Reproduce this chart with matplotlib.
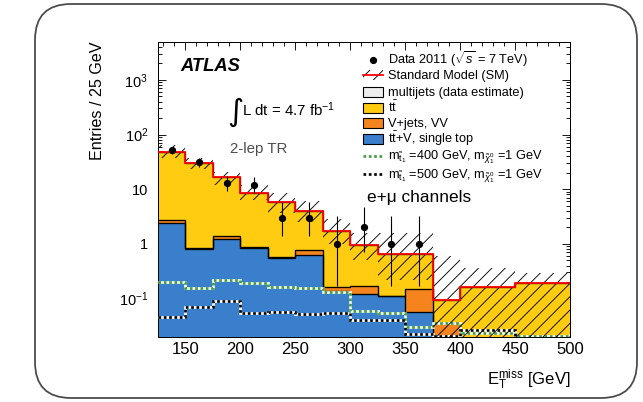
import numpy as np
import matplotlib
matplotlib.use("Agg")
import matplotlib.pyplot as plt
from matplotlib.patches import Rectangle, FancyBboxPatch
from matplotlib.ticker import FixedLocator, FixedFormatter, MultipleLocator, LogLocator, NullFormatter

plt.rcParams['font.family'] = ['Liberation Sans', 'DejaVu Sans']
plt.rcParams['mathtext.fontset'] = 'custom'
plt.rcParams['mathtext.rm'] = 'Liberation Sans'
plt.rcParams['mathtext.it'] = 'Liberation Sans:italic'
plt.rcParams['mathtext.bf'] = 'Liberation Sans:bold'
plt.rcParams['mathtext.sf'] = 'Liberation Sans'
plt.rcParams['hatch.linewidth'] = 0.8

# binning in MET (GeV), entries normalised to 25 GeV
edges = [125, 150, 175, 200, 225, 250, 275, 300, 325, 350, 375, 400, 450, 500]

# stacked backgrounds, bottom to top
ttv_single_top = [2.42, 0.82, 1.22, 0.84, 0.56, 0.62, 0.138, 0.12, 0.11, 0.057, 0.005, 0.004, 0.004]
vjets_vv = [0.29, 0.02, 0.16, 0.02, 0.01, 0.16, 0.025, 0.048, 0.002, 0.091, 0.030, 0.006, 0.006]
ttbar = [45.6, 28.8, 15.5, 7.84, 5.33, 3.22, 1.59, 0.79, 0.548, 0.512, 0.057, 0.153, 0.18]
multijets = [0.0, 0.0, 0.0, 0.0, 0.0, 0.0, 0.0, 0.0, 0.0, 0.0, 0.0, 0.0, 0.0]

# total SM uncertainty band
sm_up = [64, 38, 21, 12, 8.5, 6.0, 2.8, 1.6, 1.6, 1.6, 0.6, 0.36, 0.29]
sm_dn = [38, 23, 12, 6.3, 3.6, 2.5, 1.0, 0.5, 0.22, 0.22, 0.005, 0.005, 0.005]

# signal points
sig_400 = [0.20, 0.156, 0.22, 0.196, 0.163, 0.155, 0.129, 0.058, 0.054, 0.030, 0.036, 0.0235, 0.0205]
sig_500 = [0.045, 0.070, 0.089, 0.055, 0.057, 0.052, 0.054, 0.040, 0.040, 0.022, 0.021, 0.027, 0.01]

# data
data_x = [137.5, 162.5, 187.5, 212.5, 237.5, 262.5, 287.5, 312.5, 337.5, 362.5]
data_y = [52, 31, 13, 12, 3, 3, 1, 2, 1, 1]
data_lo = [7.2, 5.5, 3.6, 3.4, 1.63, 1.63, 0.83, 1.29, 0.83, 0.83]
data_hi = [8.3, 6.6, 4.7, 4.5, 2.92, 2.92, 2.30, 2.64, 2.30, 2.30]

legend_labels = [
    r'Data 2011 ($\sqrt{s}$ = 7 TeV)',
    'Standard Model (SM)',
    'multijets (data estimate)',
    r'$\mathrm{t\bar{t}}$',
    'V+jets, VV',
    r'$\mathrm{t\bar{t}}$+V, single top',
    r'm$_{\tilde{\mathrm{t}}_1}$ =400 GeV, m$_{\tilde{\chi}_1^0}$ =1 GeV',
    r'm$_{\tilde{\mathrm{t}}_1}$ =500 GeV, m$_{\tilde{\chi}_1^0}$ =1 GeV',
]

c_ttv = '#3a7fcc'
c_vj = '#f5841f'
c_tt = '#ffcc11'
c_mj = '#eeeeee'
c_sig4 = '#3f9a3f'

W, H, DPI = 643, 402, 80
fig = plt.figure(figsize=(W / DPI, H / DPI), dpi=DPI)
ax = fig.add_axes([158 / W, 1 - 336.7 / H, 412 / W, 295 / H])

edges = np.array(edges, dtype=float)
layers = [(ttv_single_top, c_ttv), (vjets_vv, c_vj), (ttbar, c_tt), (multijets, c_mj)]
bottom = np.full(len(edges) - 1, 1e-4)
tops = []
for vals, col in layers:
    top = bottom + np.array(vals)
    ax.stairs(top, edges, baseline=bottom, fill=True, facecolor=col, edgecolor='none', zorder=2)
    tops.append(top)
    bottom = top
for top in tops[:-1]:
    ax.stairs(top, edges, baseline=None, color='black', lw=1.2, zorder=3)
sm_total = tops[-1]

# signal lines: white base with dotted colour on top
for vals, col in [(sig_400, c_sig4), (sig_500, 'black')]:
    ax.stairs(vals, edges, baseline=None, color='white', lw=2.4, zorder=4)
    ax.stairs(vals, edges, baseline=None, color=col, lw=2.4, ls=(0, (1, 1)), zorder=4.1)

ax.stairs(sm_up, edges, baseline=sm_dn, fill=True, facecolor='none', edgecolor='black',
          hatch='//', lw=0, zorder=5)
ax.stairs(sm_total, edges, baseline=None, color='red', lw=1.6, zorder=6)

ax.errorbar(data_x, data_y, yerr=[data_lo, data_hi], fmt='o', color='black', ms=5.5,
            elinewidth=1.0, capsize=0, zorder=7)

ax.set_yscale('log')
ax.set_xlim(125, 500)
ax.set_ylim(0.02, 5000)

ax.xaxis.set_major_locator(MultipleLocator(50))
ax.xaxis.set_minor_locator(MultipleLocator(10))
ax.yaxis.set_major_locator(FixedLocator([0.1, 1, 10, 100, 1000]))
ax.yaxis.set_major_formatter(FixedFormatter(['$10^{-1}$', '1', '10', '$10^{2}$', '$10^{3}$']))
ax.yaxis.set_minor_locator(LogLocator(base=10, subs=np.arange(2, 10)))
ax.yaxis.set_minor_formatter(NullFormatter())
ax.tick_params(which='both', direction='in', top=True, right=True, width=0.8)
ax.tick_params(which='major', length=7)
ax.tick_params(which='minor', length=3.5)
ax.tick_params(axis='x', labelsize=15, pad=5)
ax.tick_params(axis='y', labelsize=13, pad=9)
for s in ax.spines.values():
    s.set_linewidth(0.9)

ax.set_ylabel('Entries / 25 GeV', loc='top', fontsize=14.5)
ax.yaxis.set_label_coords(-0.129, 1.0)
ax.set_xlabel(r'E$_{\mathrm{T}}^{\mathrm{miss}}$ [GeV]', loc='right', fontsize=15)
ax.xaxis.set_label_coords(1.0, -0.105)

# overlay in canvas pixels for the labels and the legend
ov = fig.add_axes([0, 0, 1, 1], zorder=10)
ov.set_xlim(0, W)
ov.set_ylim(H, 0)
ov.axis('off')

ov.text(180, 71, 'ATLAS', fontsize=16.5, fontweight='bold', fontstyle='italic', va='baseline')
ov.text(243, 112, '\u222b', fontsize=28, va='center', ha='right', family=['DejaVu Sans'])
ov.text(242, 116, 'L dt = 4.7 fb$^{-1}$', fontsize=13.5, va='baseline')
ov.text(230, 153, '2-lep TR', fontsize=13.5, color='#4d4d4d', va='baseline')
ov.text(367, 202, 'e+\u03bc channels', fontsize=15.5, va='baseline')

row_y = [60, 75, 91.5, 107.5, 122.5, 139, 155.5, 174]
hx0, hx1, hh = 363, 383, 10
for i, (yc, lab) in enumerate(zip(row_y, legend_labels)):
    if i == 0:
        ov.plot([(hx0 + hx1) / 2], [yc], 'o', color='black', ms=5.5)
    elif i == 1:
        ov.add_patch(Rectangle((hx0, yc - hh / 2), hx1 - hx0, hh, facecolor='none',
                               edgecolor='black', hatch='//', lw=0))
        ov.plot([hx0, hx1], [yc, yc], color='red', lw=1.6)
    elif i in (2, 3, 4, 5):
        col = [c_mj, c_tt, c_vj, c_ttv][i - 2]
        ov.add_patch(Rectangle((hx0, yc - hh / 2), hx1 - hx0, hh, facecolor=col,
                               edgecolor='black', lw=1.0))
    else:
        col = c_sig4 if i == 6 else 'black'
        ov.plot([hx0, hx1], [yc, yc], color='white', lw=2.4)
        ov.plot([hx0, hx1], [yc, yc], color=col, lw=2.4, ls=(0, (1, 1)))
    ov.text(388, yc + 4.4, lab, fontsize=11.5, va='baseline')

# rounded frame around the whole canvas
frame = FancyBboxPatch((35, 4), 602, 394, boxstyle='round,pad=0,rounding_size=36',
                       transform=None, facecolor='none', edgecolor='#4a4a4a', lw=1.6)
fig.patches.append(frame)

fig.savefig('out.png', dpi=DPI)
